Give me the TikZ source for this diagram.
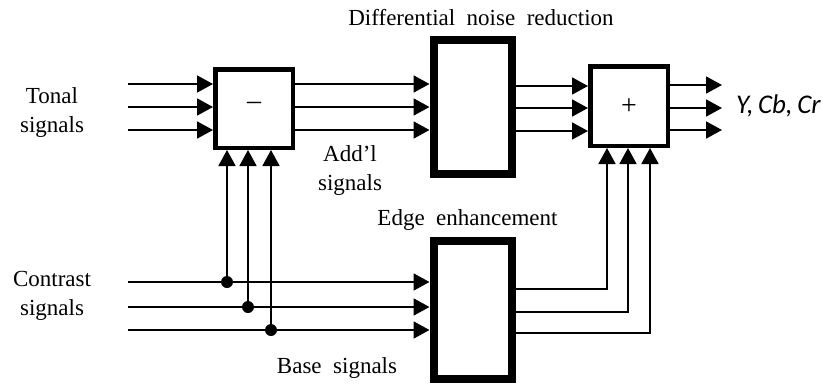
\documentclass[tikz,border=0pt]{standalone}
\usepackage{fontspec}
\setmainfont{Liberation Serif}
\newfontfamily\calfont{Carlito}
\usetikzlibrary{arrows.meta,calc}
\begin{document}
\begin{tikzpicture}[x=1pt,y=-1pt,
  lbl/.style={font=\fontsize{23}{29}\selectfont, align=center, inner sep=0pt},
  sign/.style={font=\fontsize{28}{30}\selectfont, inner sep=0pt},
  thinbox/.style={draw, line width=4.5pt, inner sep=0pt, minimum width=77.5pt, minimum height=78.5pt},
  bigbox/.style={draw, line width=8pt, inner sep=0pt, minimum width=78pt},
  wire/.style={line width=1.8pt},
  arr/.style={wire, -{Triangle[length=16pt,width=17pt]}},
  dotn/.style={circle, fill, inner sep=0pt, minimum size=12pt}
]
\useasboundingbox (0,0) rectangle (823,386);

% boxes
\node[thinbox] (sub) at (254,108.5) {};
\node[bigbox, minimum height=134pt] (dnr) at (472.5,107) {};
\node[bigbox, minimum height=138pt] (edge) at (472.5,310) {};
\node[thinbox, minimum height=79.5pt] (plus) at (629,106) {};

\node[sign] (minus) at (254,106) {--};
\node[sign] (plussign) at (629,107) {+};

% labels
\node[lbl] (tonal) at (52,112) {Tonal\\signals};
\node[lbl] (contrast) at (52,296) {Contrast\\signals};
\node[lbl] (addl) at (350,170) {Add'l\\signals};
\node[lbl] (dnrlbl) at (481,18) {Differential\ \ noise\ \ reduction};
\node[lbl] (edgelbl) at (467.5,220) {Edge\ \ enhancement};
\node[lbl] (baselbl) at (337,368) {Base\ \ signals};
\node[font=\fontsize{27}{30}\calfont\itshape, anchor=west, inner sep=0pt] (ycc) at (736,106) {Y,\,Cb,\,Cr};

% tonal inputs
\foreach \y/\n in {84/a,107/b,130/c} {
  \coordinate (t\n) at (128,\y);
  \draw[arr] (t\n) -- (t\n -| sub.west);
}
% sub -> dnr
\foreach \y/\n in {84/a,107/b,130/c} {
  \coordinate (s\n) at (sub.east |- 0,\y);
  \draw[arr] (s\n) -- (s\n -| dnr.west);
}
% dnr -> plus
\foreach \y/\n in {86/a,108/b,131/c} {
  \coordinate (d\n) at (dnr.east |- 0,\y);
  \draw[arr] (d\n) -- (d\n -| plus.west);
}
% plus outputs
\foreach \y/\n in {85/a,108/b,130/c} {
  \coordinate (p\n) at (plus.east |- 0,\y);
  \coordinate (o\n) at (722,\y);
  \draw[arr] (p\n) -- (o\n);
}
% contrast inputs with taps
\foreach \y/\x/\n in {282/227/a,307/248/b,330/271/c} {
  \coordinate (c\n) at (128,\y);
  \draw[arr] (c\n) -- (c\n -| edge.west);
  \node[dotn] (k\n) at (\x,\y) {};
  \draw[arr] (k\n.center) -- (k\n.center |- sub.south);
}
% edge -> plus
\foreach \y/\x/\n in {289/607/a,312/628/b,333/650/c} {
  \coordinate (e\n) at (edge.east |- 0,\y);
  \coordinate (f\n) at (\x,\y);
  \draw[arr] (e\n) -- (f\n) -- (f\n |- plus.south);
}
\end{tikzpicture}
\end{document}
